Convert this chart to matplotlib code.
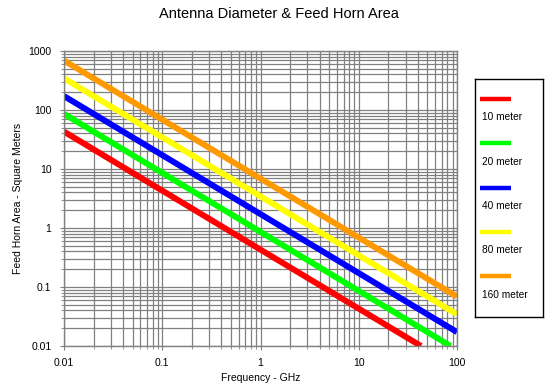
import matplotlib
matplotlib.use("Agg")
import matplotlib.pyplot as plt
from matplotlib.ticker import LogLocator, NullFormatter

plt.rcParams['font.family'] = ['Liberation Sans', 'DejaVu Sans']

labels = ["10 meter", "20 meter", "40 meter", "80 meter", "160 meter"]
colors = ["#FF0000", "#00FF00", "#0000FF", "#FFFF00", "#FF9900"]

freq_10 = [0.01, 0.1, 1, 10, 43]
area_10 = [43, 4.3, 0.43, 0.043, 0.01]
freq_20 = [0.01, 0.1, 1, 10, 86]
area_20 = [86, 8.6, 0.86, 0.086, 0.01]
freq_40 = [0.01, 0.1, 1, 10, 100]
area_40 = [172, 17.2, 1.72, 0.172, 0.0172]
freq_80 = [0.01, 0.1, 1, 10, 100]
area_80 = [344, 34.4, 3.44, 0.344, 0.0344]
freq_160 = [0.01, 0.1, 1, 10, 100]
area_160 = [688, 68.8, 6.88, 0.688, 0.0688]

series = [(freq_10, area_10), (freq_20, area_20), (freq_40, area_40),
          (freq_80, area_80), (freq_160, area_160)]

xticks = [0.01, 0.1, 1, 10, 100]
xticklabels = ["0.01", "0.1", "1", "10", "100"]
yticks = [0.01, 0.1, 1, 10, 100, 1000]
yticklabels = ["0.01", "0.1", "1", "10", "100", "1000"]

fig = plt.figure(figsize=(5.57, 3.92), dpi=100)
ax = fig.add_axes([64/557, 1-346/392, (457-64)/557, (346-51)/392])
ax.set_xscale('log')
ax.set_yscale('log')
ax.set_xlim(0.01, 100)
ax.set_ylim(0.01, 1000)

grid_c = "#808080"
ax.xaxis.set_minor_locator(LogLocator(base=10, subs=range(2, 10)))
ax.yaxis.set_minor_locator(LogLocator(base=10, subs=range(2, 10)))
ax.xaxis.set_minor_formatter(NullFormatter())
ax.yaxis.set_minor_formatter(NullFormatter())
ax.set_xticks(xticks)
ax.set_xticklabels(xticklabels)
ax.set_yticks(yticks)
ax.set_yticklabels(yticklabels)
ax.grid(True, which='both', color=grid_c, linewidth=0.9)
ax.set_axisbelow(True)
for s in ax.spines.values():
    s.set_color(grid_c)
    s.set_linewidth(1.0)
ax.tick_params(which='major', length=3, color=grid_c, labelsize=7.5, pad=6)
ax.tick_params(which='minor', length=2, color=grid_c)

for (f, a), c in zip(series, colors):
    ax.plot(f, a, color=c, linewidth=4.3, solid_capstyle='butt')

ax.set_xlabel("Frequency - GHz", fontsize=7.5, labelpad=3)
ax.set_ylabel("Feed Horn Area - Square Meters", fontsize=7.5, labelpad=4)
fig.text(0.5, 1-14/392, "Antenna Diameter & Feed Horn Area", ha='center', va='center', fontsize=10.5)

# legend box
lax = fig.add_axes([475/557, 1-317/392, (543-475)/557, (317-79)/392])
lax.set_xlim(475, 543)
lax.set_ylim(317, 79)
lax.set_xticks([])
lax.set_yticks([])
for s in lax.spines.values():
    s.set_color('black')
    s.set_linewidth(1.0)
for i, (lab, c) in enumerate(zip(labels, colors)):
    y0 = 99 + i * 44.3
    lax.plot([480, 511], [y0, y0], color=c, linewidth=3.2, solid_capstyle='butt')
    lax.text(482, y0 + 18.5, lab, fontsize=7.3, va='center', ha='left')

fig.savefig("out.png", dpi=100)
